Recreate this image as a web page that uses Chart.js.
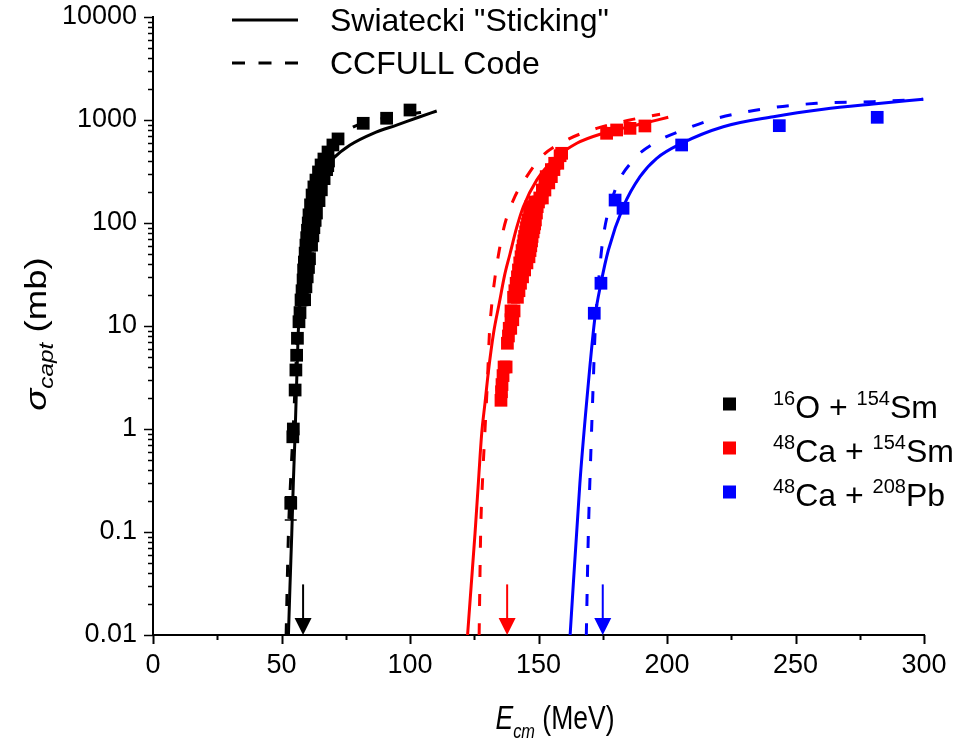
<!DOCTYPE html>
<html><head><meta charset="utf-8">
<script src="https://cdn.jsdelivr.net/npm/chart.js@4.4.1/dist/chart.umd.min.js"></script>
<style>html,body{margin:0;padding:0;background:#fff}canvas{display:block}</style>
</head><body>
<canvas id="c" width="958" height="745"></canvas>
<script>
// ---------- tick values / labels ----------
const xTickValues = [0, 50, 100, 150, 200, 250, 300];
const xTickLabels = ["0", "50", "100", "150", "200", "250", "300"];
const yTickValues = [0.01, 0.1, 1, 10, 100, 1000, 10000];
const yTickLabels = ["0.01", "0.1", "1", "10", "100", "1000", "10000"];

// ---------- experimental data (E_cm in MeV, sigma in mb) ----------
const o16Energy = [53.6, 54.4, 54.6, 55.3, 55.6, 55.9, 56.2, 56.8, 57.2,
  57.6, 58.0, 58.4, 58.6, 58.9, 59.2, 59.5, 59.8, 60.1, 60.4, 60.7, 61.3, 61.9, 62.6, 63.4, 64.4, 65.4, 66.5, 68.1, 70.0, 72.0,
  58.3, 59.3, 60.2, 61.0, 61.7, 62.0, 62.6, 63.0, 64.0, 65.2, 66.5, 67.5, 68.0,
  59.0, 59.5, 60.0, 60.5, 60.9, 61.7, 62.2, 62.6, 63.1, 63.6, 64.6, 65.5, 66.5, 67.5, 68.3,
  81.8, 90.9, 100.0];
const o16Sigma  = [0.19, 0.84, 1.0, 2.39, 3.74, 5.2, 7.6, 11, 13.5,
  17.9, 22, 28, 35, 41.8, 51, 61, 72, 85, 100, 120, 150, 187, 224, 261, 313, 366, 418, 489, 572, 655,
  18, 30, 45, 61, 75, 90, 105, 125, 165, 215, 270, 330, 360,
  18, 24, 30, 37, 45, 61, 75, 90, 106, 125, 165, 210, 270, 330, 400,
  929, 1040, 1250];
const o16ErrLow  = [0.131];
const o16ErrHigh = [0.22];
const o16ErrIdx  = [0];

const ca154Energy = [135.4, 135.6, 135.8, 136.2, 136.6, 137.4,
  137.9, 138.3, 138.6, 139.2, 139.3, 140.0, 139.3, 140.5, 140.3, 141.8, 140.8, 142.4, 141.3, 143.0,
  141.8, 143.8, 142.2, 144.6, 142.7, 145.5, 143.2, 146.3, 143.6, 146.7, 144.0, 147.0, 144.3, 147.3,
  144.6, 147.5, 145.0, 147.9, 145.3, 148.2, 145.7, 148.5, 146.0, 148.8, 146.5, 149.2, 147.0, 149.5,
  148.5, 150.0, 150.5, 151.5, 151.5, 152.5, 152.5, 154.0, 153.0, 155.0, 155.0, 156.0, 156.3, 157.5,
  158.4, 159.0, 176.5, 180.4, 185.6, 191.4];
const ca154Sigma  = [1.9, 2.3, 2.7, 3.3, 4.0, 4.0,
  6.8, 8, 9.5, 9.5, 11.5, 11.5, 14, 14, 19, 19, 22, 22, 26, 26,
  30, 30, 35, 35, 41, 41, 47, 47, 54, 54, 60, 60, 67, 67,
  74, 74, 82, 82, 90, 90, 98, 98, 107, 107, 125, 125, 144, 144,
  160, 160, 175, 175, 209, 209, 245, 245, 282, 282, 330, 330, 380, 380,
  450, 475, 743, 800, 830, 875];

const ca208Energy = [171.7, 174.3, 179.8, 182.9, 205.7, 243.7, 281.8];
const ca208Sigma  = [13.3, 26.0, 167, 139, 572, 881, 1062];

// ---------- Swiatecki "Sticking" curves ----------
const o16SwE = [52.7, 53.3, 54.0, 54.6, 55.3, 56.5, 57.6, 59.0, 60.5, 62.5, 65.0, 67.5, 70.2, 76.7, 85.7, 94.8, 103.9, 110.4];
const o16SwS = [0.01, 0.03, 0.097, 0.3, 0.908, 8.5, 22, 55, 100, 175, 252, 350, 425, 572, 743, 893, 1076, 1222];
const ca154SwE = [122.4, 123.8, 125.3, 126.6, 127.9, 129.2, 130.5, 132.5, 134.8, 136.8, 138.9, 141.5, 144.1, 149.3, 155.8, 164.9, 175.2, 188.2, 200.5];
const ca154SwS = [0.01, 0.03, 0.097, 0.3, 0.908, 1.8, 3.6, 8.5, 17, 31, 50, 90, 144, 261, 409, 594, 743, 893, 1062];
const ca208SwE = [162.3, 166.1, 169.4, 172.0, 174.3, 177.2, 183.0, 189.5, 196.0, 205.7, 221.9, 241.4, 260.8, 280.3, 299.7];
const ca208SwS = [0.01, 0.297, 2.78, 12.3, 26, 54.7, 144, 282, 425, 594, 861, 1076, 1270, 1430, 1589];

// ---------- CCFULL curves ----------
const o16CcE = [51.8, 52.7, 53.6, 54.6, 55.6, 56.8, 58.2, 60.0, 62.3, 65.0, 68.5, 72.5, 76.0, 87.0, 95.0, 104.0, 110.0];
const o16CcS = [0.01, 0.097, 0.34, 1.05, 4, 14, 38, 95, 200, 330, 480, 640, 800, 1000, 1090, 1180, 1240];
const ca154CcE = [126.9, 127.5, 128.3, 129.2, 130.1, 130.9, 131.8, 133.1, 136.3, 140.2, 145.4, 151.2, 161.0, 172.6, 185.6, 197.3];
const ca154CcS = [0.01, 0.1, 0.35, 1.0, 2.8, 8.5, 16, 30, 85, 167, 282, 441, 640, 830, 1000, 1135];
const ca208CcE = [168.6, 169.4, 170.4, 171.3, 172.0, 173.9, 175.2, 179.8, 186.9, 196.0, 206.3, 218.0, 237.5, 258.2, 280.3, 299.7];
const ca208CcS = [0.01, 0.097, 0.625, 2.78, 8.5, 37.7, 73.6, 209, 409, 615, 800, 1016, 1279, 1452, 1506, 1589];

// ---------- barrier arrows ----------
const arrowEnergies = [58.4, 137.8, 175.0];
const arrowTopSigma = 0.031;

// ---------- labels ----------
const seriesColors = ["#000000", "#ff0000", "#0000ff"];
const seriesLabels = [
  [{sup: "16"}, {t: "O + "}, {sup: "154"}, {t: "Sm"}],
  [{sup: "48"}, {t: "Ca + "}, {sup: "154"}, {t: "Sm"}],
  [{sup: "48"}, {t: "Ca + "}, {sup: "208"}, {t: "Pb"}]
];
const modelLabels = ['Swiatecki "Sticking"', 'CCFULL Code'];

const FONT = '"Liberation Sans", Arial, Helvetica, sans-serif';

function pts(xs, ys) { return xs.map((v, i) => ({x: v, y: ys[i]})); }

function scatterSet(xs, ys, color) {
  return {data: pts(xs, ys), showLine: false, pointStyle: 'rect', pointRadius: 9, pointHoverRadius: 9,
    backgroundColor: color, borderColor: color, borderWidth: 0};
}
function curveSet(xs, ys, color, dashed) {
  return {data: pts(xs, ys), showLine: true, pointRadius: 0, pointHoverRadius: 0, borderColor: color,
    backgroundColor: color, borderWidth: 3, borderDash: dashed ? [12, 17] : [], cubicInterpolationMode: 'monotone', fill: false};
}

function drawRuns(ctx, runs, x, y, size, supSize) {
  let cx = x;
  for (const r of runs) {
    if (r.sup !== undefined) {
      ctx.font = `${supSize}px ${FONT}`;
      ctx.fillText(r.sup, cx, y - size * 0.42);
      cx += ctx.measureText(r.sup).width;
    } else {
      ctx.font = `${size}px ${FONT}`;
      ctx.fillText(r.t, cx, y);
      cx += ctx.measureText(r.t).width;
    }
  }
}

const decorPlugin = {
  id: 'decor',
  afterDraw(chart) {
    const {ctx, chartArea: ca, scales: {x, y}} = chart;
    ctx.save();
    ctx.strokeStyle = '#000';
    // x ticks (major every 50, minor every 25)
    ctx.lineWidth = 2;
    for (let v = 0; v <= 300; v += 25) {
      const px = Math.round(x.getPixelForValue(v)) + 0.5;
      const len = v % 50 === 0 ? 9 : 5;
      ctx.beginPath(); ctx.moveTo(px, ca.bottom); ctx.lineTo(px, ca.bottom + len); ctx.stroke();
    }
    // y ticks (log: major at decades, minor 2..9)
    ctx.lineWidth = 1.5;
    for (let d = -2; d <= 4; d++) {
      for (let m = 1; m <= 9; m++) {
        if (d === 4 && m > 1) break;
        const py = Math.round(y.getPixelForValue(m * Math.pow(10, d))) + 0.5;
        const len = m === 1 ? 9 : 5;
        ctx.beginPath(); ctx.moveTo(ca.left, py); ctx.lineTo(ca.left - len, py); ctx.stroke();
      }
    }
    // arrows
    arrowEnergies.forEach((e, i) => {
      const px = x.getPixelForValue(e);
      const top = y.getPixelForValue(arrowTopSigma);
      ctx.strokeStyle = seriesColors[i]; ctx.fillStyle = seriesColors[i]; ctx.lineWidth = 2;
      ctx.beginPath(); ctx.moveTo(px, top); ctx.lineTo(px, ca.bottom - 14); ctx.stroke();
      ctx.beginPath(); ctx.moveTo(px - 8.5, ca.bottom - 17); ctx.lineTo(px + 8.5, ca.bottom - 17); ctx.lineTo(px, ca.bottom); ctx.closePath(); ctx.fill();
    });
    // error bars
    ctx.strokeStyle = '#000'; ctx.lineWidth = 1.5;
    o16ErrIdx.forEach((idx, k) => {
      const px = x.getPixelForValue(o16Energy[idx]);
      const y1 = y.getPixelForValue(o16ErrLow[k]), y2 = y.getPixelForValue(o16ErrHigh[k]);
      ctx.beginPath(); ctx.moveTo(px, y1); ctx.lineTo(px, y2);
      ctx.moveTo(px - 6, y1); ctx.lineTo(px + 6, y1);
      ctx.moveTo(px - 6, y2); ctx.lineTo(px + 6, y2); ctx.stroke();
    });
    // top legend (line styles)
    ctx.fillStyle = '#000'; ctx.strokeStyle = '#000'; ctx.lineWidth = 3;
    ctx.textBaseline = 'alphabetic'; ctx.textAlign = 'left';
    [[20, []], [63, [13, 13.5]]].forEach(([ly, dash], i) => {
      ctx.setLineDash(dash);
      ctx.beginPath(); ctx.moveTo(232, ly); ctx.lineTo(298, ly); ctx.stroke();
      ctx.setLineDash([]);
      ctx.font = `32px ${FONT}`;
      ctx.fillText(modelLabels[i], 330, ly + 11);
    });
    // right legend (series)
    seriesLabels.forEach((runs, i) => {
      const cy = 404 + i * 44;
      ctx.fillStyle = seriesColors[i];
      ctx.fillRect(723, cy - 6.5, 13, 13);
      ctx.fillStyle = '#000';
      drawRuns(ctx, runs, 773, cy + 14, 32, 20);
    });
    // x title: E_cm (MeV)  (condensed horizontally, as in the reference)
    ctx.fillStyle = '#000';
    ctx.save();
    const sxScale = 0.78;
    ctx.font = `italic 34px ${FONT}`;
    const wE = ctx.measureText('E').width;
    ctx.font = `italic 21px ${FONT}`;
    const wcm = ctx.measureText('cm').width;
    ctx.font = `34px ${FONT}`;
    const wM = ctx.measureText(' (MeV)').width;
    ctx.translate(555, 729);
    ctx.scale(sxScale, 1);
    let sx = -(wE + wcm + wM) / 2;
    ctx.font = `italic 34px ${FONT}`; ctx.fillText('E', sx, 0); sx += wE;
    ctx.font = `italic 21px ${FONT}`; ctx.fillText('cm', sx, 9); sx += wcm;
    ctx.font = `34px ${FONT}`; ctx.fillText(' (MeV)', sx, 0);
    ctx.restore();
    // y title: sigma_capt (mb)
    ctx.save();
    ctx.translate(46, 334);
    ctx.rotate(-Math.PI / 2);
    ctx.scale(1.22, 1);
    ctx.font = `italic 30px ${FONT}`;
    const ws = ctx.measureText('σ').width;
    ctx.font = `italic 20px ${FONT}`;
    const wc = ctx.measureText('capt').width;
    ctx.font = `30px ${FONT}`;
    const wm = ctx.measureText(' (mb)').width;
    let tx = -(ws + wc + wm) / 2;
    ctx.font = `italic 30px ${FONT}`; ctx.fillText('σ', tx, 0); tx += ws;
    ctx.font = `italic 20px ${FONT}`; ctx.fillText('capt', tx, 7); tx += wc;
    ctx.font = `30px ${FONT}`; ctx.fillText(' (mb)', tx, 0);
    ctx.restore();
    ctx.restore();
  }
};

new Chart(document.getElementById('c'), {
  type: 'scatter',
  data: {
    datasets: [
      scatterSet(o16Energy, o16Sigma, seriesColors[0]),
      scatterSet(ca154Energy, ca154Sigma, seriesColors[1]),
      scatterSet(ca208Energy, ca208Sigma, seriesColors[2]),
      curveSet(o16SwE, o16SwS, seriesColors[0], false),
      curveSet(o16CcE, o16CcS, seriesColors[0], true),
      curveSet(ca154SwE, ca154SwS, seriesColors[1], false),
      curveSet(ca154CcE, ca154CcS, seriesColors[1], true),
      curveSet(ca208SwE, ca208SwS, seriesColors[2], false),
      curveSet(ca208CcE, ca208CcS, seriesColors[2], true)
    ]
  },
  options: {
    responsive: false, animation: false, devicePixelRatio: 1,
    layout: {padding: {top: 17, right: 34, left: 0, bottom: 0}},
    plugins: {legend: {display: false}, tooltip: {enabled: false}, title: {display: false}},
    scales: {
      x: {
        type: 'linear', min: 0, max: 300,
        afterBuildTicks: s => { s.ticks = xTickValues.map(v => ({value: v})); },
        afterFit: s => { s.height = 110; s.paddingLeft = 0; s.paddingRight = 0; },
        ticks: {callback: (v, i) => xTickLabels[i], color: '#000', font: {size: 27, family: FONT}, padding: 14, maxRotation: 0, autoSkip: false},
        grid: {display: false, drawTicks: false},
        border: {display: true, color: '#000', width: 2}
      },
      y: {
        type: 'logarithmic', min: 0.01, max: 10000,
        afterBuildTicks: s => { s.ticks = yTickValues.map(v => ({value: v})); },
        afterFit: s => { s.width = 153; s.paddingTop = 0; s.paddingBottom = 0; },
        ticks: {callback: (v, i) => yTickLabels[i], color: '#000', font: {size: 27, family: FONT}, padding: 16, autoSkip: false},
        grid: {display: false, drawTicks: false},
        border: {display: true, color: '#000', width: 2}
      }
    }
  },
  plugins: [decorPlugin]
});
</script>
</body></html>
